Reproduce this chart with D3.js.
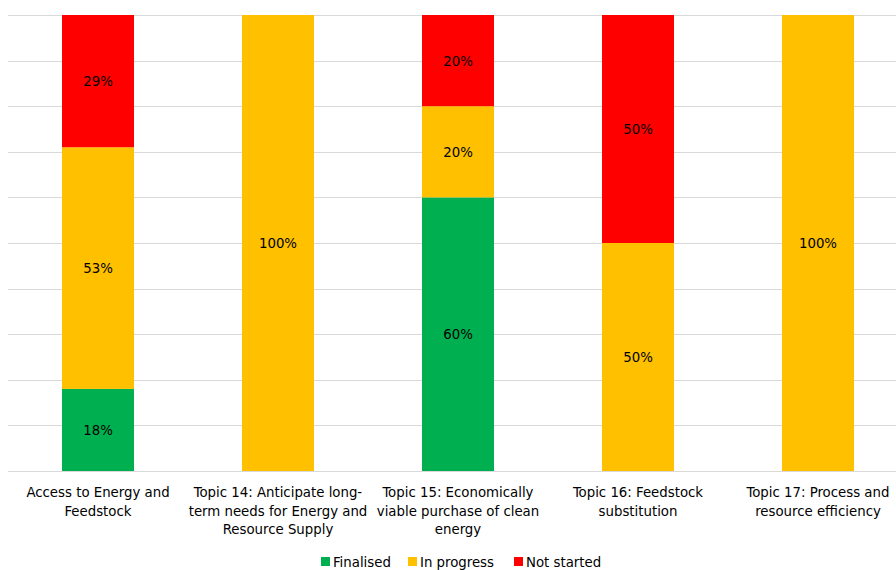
<!DOCTYPE html>
<html><head><meta charset="utf-8">
<script src="https://cdn.jsdelivr.net/npm/d3@7"></script>
<style>
html,body{margin:0;padding:0;background:#fff;}
svg{display:block;font-family:"DejaVu Sans Condensed","DejaVu Sans",sans-serif;}
</style></head>
<body><svg id="c" width="896" height="570"></svg>
<script>
const categoryLines = [
  ["Access to Energy and", "Feedstock"],
  ["Topic 14: Anticipate long-", "term needs for Energy and", "Resource Supply"],
  ["Topic 15: Economically", "viable purchase of clean", "energy"],
  ["Topic 16: Feedstock", "substitution"],
  ["Topic 17: Process and", "resource efficiency"]
];
const categories = categoryLines.map(l => l.join(" "));
const seriesNames = ["Finalised", "In progress", "Not started"];
const finalised = [18, 0, 60, 0, 0];
const inProgress = [53, 100, 20, 50, 100];
const notStarted = [29, 0, 20, 50, 0];
const colors = ["#00B050", "#FFC000", "#FF0000"];
const yTicks = [0,10,20,30,40,50,60,70,80,90,100];

const rows = categories.map((c,i)=>({cat:c, "Finalised":finalised[i], "In progress":inProgress[i], "Not started":notStarted[i]}));
const stack = d3.stack().keys(seriesNames)(rows);

const svg = d3.select("#c");
const x = d3.scaleBand().domain(categories).range([8, 908]).paddingInner(0.6).paddingOuter(0.3);
const y = d3.scaleLinear().domain([0,100]).range([471, 15]);

svg.append("g").selectAll("line").data(yTicks).join("line")
  .attr("x1", 8).attr("x2", 896)
  .attr("y1", d=>Math.round(y(d))+0.5).attr("y2", d=>Math.round(y(d))+0.5)
  .attr("stroke", "#D9D9D9").attr("stroke-width", 1);

const layers = svg.append("g").selectAll("g").data(stack).join("g").attr("fill", (d,i)=>colors[i]);
layers.selectAll("rect").data(d=>d.map(v=>({v, key:d.key}))).join("rect")
  .attr("x", d=>x(d.v.data.cat))
  .attr("width", x.bandwidth())
  .attr("y", d=>y(d.v[1]))
  .attr("height", d=>y(d.v[0])-y(d.v[1]));

const labels = svg.append("g").attr("font-size", 14.8).attr("fill", "#000").attr("text-anchor", "middle");
stack.forEach(s=>{
  s.forEach(v=>{
    const val = v[1]-v[0];
    if (val<=0) return;
    labels.append("text")
      .attr("x", x(v.data.cat)+x.bandwidth()/2)
      .attr("y", (y(v[0])+y(v[1]))/2)
      .attr("dy", "0.35em")
      .text(val+"%");
  });
});

const xl = svg.append("g").attr("font-size", 14.8).attr("fill", "#000").attr("text-anchor", "middle");
categories.forEach((c,i)=>{
  const t = xl.append("text").attr("x", x(c)+x.bandwidth()/2).attr("y", 497);
  categoryLines[i].forEach((ln,j)=>{
    t.append("tspan").attr("x", x(c)+x.bandwidth()/2).attr("y", 497+j*18.5).text(ln);
  });
});

const legendX = [321, 408, 514];
const lg = svg.append("g").attr("font-size", 14.8);
seriesNames.forEach((n,i)=>{
  lg.append("rect").attr("x", legendX[i]).attr("y", 557).attr("width", 9).attr("height", 9).attr("fill", colors[i]);
  lg.append("text").attr("x", legendX[i]+12).attr("y", 567).attr("fill","#000").text(n);
});
</script></body></html>
